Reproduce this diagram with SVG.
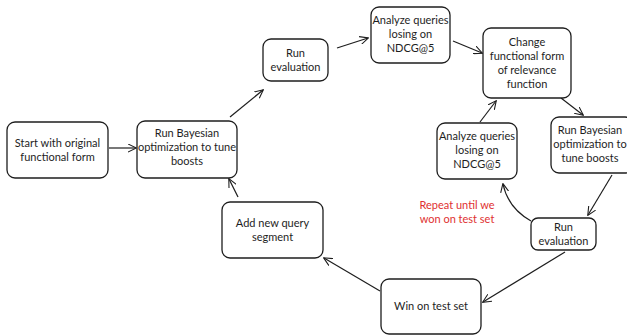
<svg xmlns="http://www.w3.org/2000/svg" width="627" height="335" viewBox="0 0 627 335">
<defs>
<style>
.box{fill:#fff;stroke:#1e1e1e;stroke-width:1.3}
.t{font-family:Lato,"Open Sans",sans-serif;font-size:11px;fill:#1e1e1e;text-anchor:middle}
.r{font-family:Lato,"Open Sans",sans-serif;font-size:11px;fill:#e03131;text-anchor:middle}
.c{fill:none;stroke:#1e1e1e;stroke-width:1.2;marker-end:url(#a)}
</style>
<marker id="a" viewBox="0 0 10 10" refX="9" refY="5" markerWidth="9" markerHeight="9" orient="auto" markerUnits="userSpaceOnUse">
<path d="M0,0.5 L9.5,5 L0,9.5" fill="none" stroke="#1e1e1e" stroke-width="1.2"/>
</marker>
</defs>
<rect width="627" height="335" fill="#fff"/>
<g id="connectors">
<path class="c" d="M109,148 L136,148"/>
<path class="c" d="M230,117 L263,90"/>
<path class="c" d="M337,48 L368,38"/>
<path class="c" d="M453,41 L482,53"/>
<path class="c" d="M561,98 L583,115"/>
<path class="c" d="M612,175 L588,215"/>
<path class="c" d="M531,221 Q508,208 503,184"/>
<path class="c" d="M480,122 L496,101"/>
<path class="c" d="M565,252 L483,302"/>
<path class="c" d="M380,291 L324,258"/>
<path class="c" d="M238,197 L229,179"/>
</g>
<g id="n1"><rect class="box" x="7" y="122" width="101" height="56" rx="8"/>
<text class="t" x="57.5" y="147">Start with original</text><text class="t" x="57.5" y="161">functional form</text></g>
<g id="n2"><rect class="box" x="137" y="121" width="100" height="57" rx="8"/>
<text class="t" x="187" y="137">Run Bayesian</text><text class="t" x="187" y="151">optimization to tune</text><text class="t" x="187" y="165">boosts</text></g>
<g id="n3"><rect class="box" x="263" y="39" width="65" height="42" rx="8"/>
<text class="t" x="295.5" y="57">Run</text><text class="t" x="295.5" y="71">evaluation</text></g>
<g id="n4"><rect class="box" x="371" y="7" width="79" height="56" rx="8"/>
<text class="t" x="410.5" y="24">Analyze queries</text><text class="t" x="410.5" y="38">losing on</text><text class="t" x="410.5" y="52">NDCG@5</text></g>
<g id="n5"><rect class="box" x="483" y="28" width="88" height="70" rx="8"/>
<text class="t" x="527" y="46">Change</text><text class="t" x="527" y="60">functional form</text><text class="t" x="527" y="74">of relevance</text><text class="t" x="527" y="88">function</text></g>
<g id="n6"><rect class="box" x="437" y="123" width="80" height="56" rx="8"/>
<text class="t" x="477" y="140">Analyze queries</text><text class="t" x="477" y="154">losing on</text><text class="t" x="477" y="168">NDCG@5</text></g>
<g id="n7"><rect class="box" x="551" y="117" width="82" height="56" rx="8"/>
<text class="t" x="590" y="134">Run Bayesian</text><text class="t" x="590" y="148">optimization to</text><text class="t" x="590" y="162">tune boosts</text></g>
<g id="n8"><rect class="box" x="531" y="218" width="65" height="32" rx="7"/>
<text class="t" x="563.5" y="231">Run</text><text class="t" x="563.5" y="245">evaluation</text></g>
<g id="n9"><rect class="box" x="381" y="279" width="100" height="55" rx="8"/>
<text class="t" x="431" y="310">Win on test set</text></g>
<g id="n10"><rect class="box" x="222" y="202" width="101" height="56" rx="8"/>
<text class="t" x="272.5" y="227">Add new query</text><text class="t" x="272.5" y="241">segment</text></g>
<g id="label"><text class="r" x="457" y="209">Repeat until we</text><text class="r" x="457" y="223">won on test set</text></g>
</svg>
